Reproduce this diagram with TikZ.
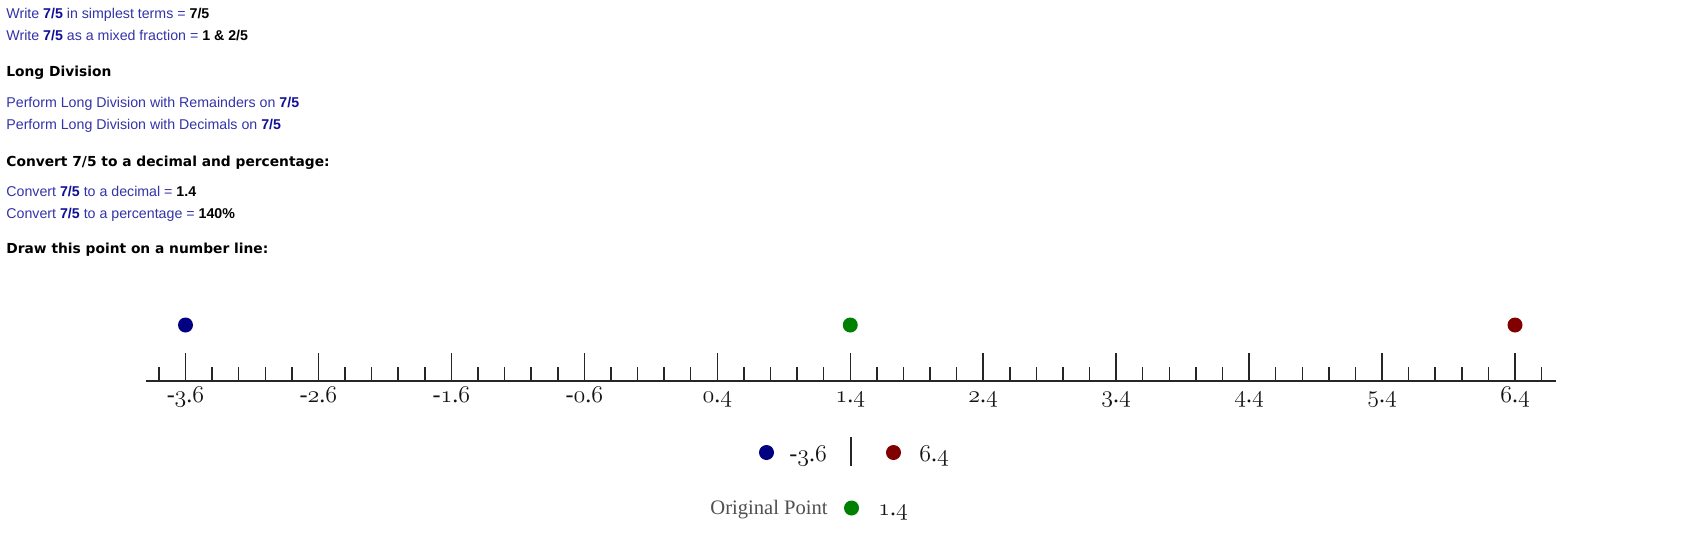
\documentclass[tikz,border=0pt]{standalone}
\usepackage{fontspec}
\setmainfont{Liberation Serif}
\newfontfamily\arialf{Liberation Sans}
\newfontfamily\verdf{DejaVu Sans}
\definecolor{linkblue}{RGB}{51,51,170}
\definecolor{boldblue}{RGB}{16,16,150}
\definecolor{dotblue}{RGB}{0,0,128}
\definecolor{dotgreen}{RGB}{0,128,0}
\definecolor{dotred}{RGB}{128,0,0}
\definecolor{numgray}{RGB}{20,20,20}
\definecolor{legray}{RGB}{80,80,80}
\newcommand\osn[1]{{\usefont{OML}{cmm}{m}{it}#1}}
\tikzset{
  txt/.style={anchor=base west, inner sep=0pt, font=\arialf\fontsize{7.1}{8}\selectfont, text=linkblue},
  head/.style={anchor=base west, inner sep=0pt, font=\verdf\bfseries\fontsize{6.9}{8}\selectfont, text=black},
  numlab/.style={anchor=base, inner sep=0pt, font=\fontsize{12}{14}\selectfont, text=numgray},
  leglab/.style={anchor=base west, inner sep=0pt, font=\fontsize{12}{14}\selectfont, text=numgray},
  tickline/.style={line width=0.75pt, black!85},
  dotb/.style={circle, fill=dotblue, minimum size=7.5pt, inner sep=0pt},
  dotg/.style={circle, fill=dotgreen, minimum size=7.5pt, inner sep=0pt},
  dotr/.style={circle, fill=dotred, minimum size=7.5pt, inner sep=0pt},
}
\newcommand\bb[1]{\textcolor{boldblue}{\bfseries #1}}
\newcommand\bk[1]{\textcolor{black}{\bfseries #1}}
\begin{document}
\begin{tikzpicture}[x=0.5pt, y=-0.5pt]
\useasboundingbox[fill=white] (0,0) rectangle (1699,537);
% text block
\node[txt] (t1) at (6,18) {Write \bb{7/5} in simplest terms = \bk{7/5}};
\node[txt] (t2) at (6,40) {Write \bb{7/5} as a mixed fraction = \bk{1 \& 2/5}};
\node[head] (h1) at (6,76) {Long Division};
\node[txt] (t3) at (6,107) {Perform Long Division with Remainders on \bb{7/5}};
\node[txt] (t4) at (6,129) {Perform Long Division with Decimals on \bb{7/5}};
\node[head] (h2) at (6,166) {Convert 7/5 to a decimal and percentage:};
\node[txt] (t5) at (6,196) {Convert \bb{7/5} to a decimal = \bk{1.4}};
\node[txt] (t6) at (6,218) {Convert \bb{7/5} to a percentage = \bk{140\%}};
\node[head] (h3) at (6,253) {Draw this point on a number line:};
% axis
\coordinate (axl) at (146,381);
\coordinate (axr) at (1556,381);
\draw[line width=0.9pt, black!85] (axl) -- (axr);
\foreach \k in {-1,...,51}{
  \pgfmathsetmacro\xx{185.5+\k*26.59}
  \draw[tickline] (\xx,381) -- (\xx,367);
}
\foreach \k/\a/\b in {0/-\osn{3}/\osn{6},1/-\osn{2}/\osn{6},2/-\osn{1}/\osn{6},3/-\osn{0}/\osn{6},4/\osn{0}/\osn{4},5/\osn{1}/\osn{4},6/\osn{2}/\osn{4},7/\osn{3}/\osn{4},8/\osn{4}/\osn{4},9/\osn{5}/\osn{4},10/\osn{6}/\osn{4}}{
  \pgfmathsetmacro\xx{185.5+\k*132.95}
  \draw[tickline] (\xx,381) -- (\xx,353);
  \node[numlab] (lab\k) at (\xx,402) {\a.\b};
}
% points
\node[dotb] (pb) at (185.5,325) {};
\node[dotg] (pg) at (850.25,325) {};
\node[dotr] (pr) at (1515,325) {};
% legend
\node[dotb] (lb) at (766.5,452.5) {};
\node[leglab] (lbt) at (789,461) {-\osn{3}.\osn{6}};
\coordinate (bart) at (851,437);
\coordinate (barb) at (851,466);
\draw[line width=0.75pt, black!85] (bart) -- (barb);
\node[dotr] (lr) at (893.5,452.5) {};
\node[leglab] (lrt) at (919,461) {\osn{6}.\osn{4}};
\node[leglab, text=legray, font=\fontsize{10.3}{12}\selectfont] (lot) at (710,514) {Original Point};
\node[dotg] (lg) at (851.5,508) {};
\node[leglab] (lgt) at (878,515) {\osn{1}.\osn{4}};
\end{tikzpicture}
\end{document}
